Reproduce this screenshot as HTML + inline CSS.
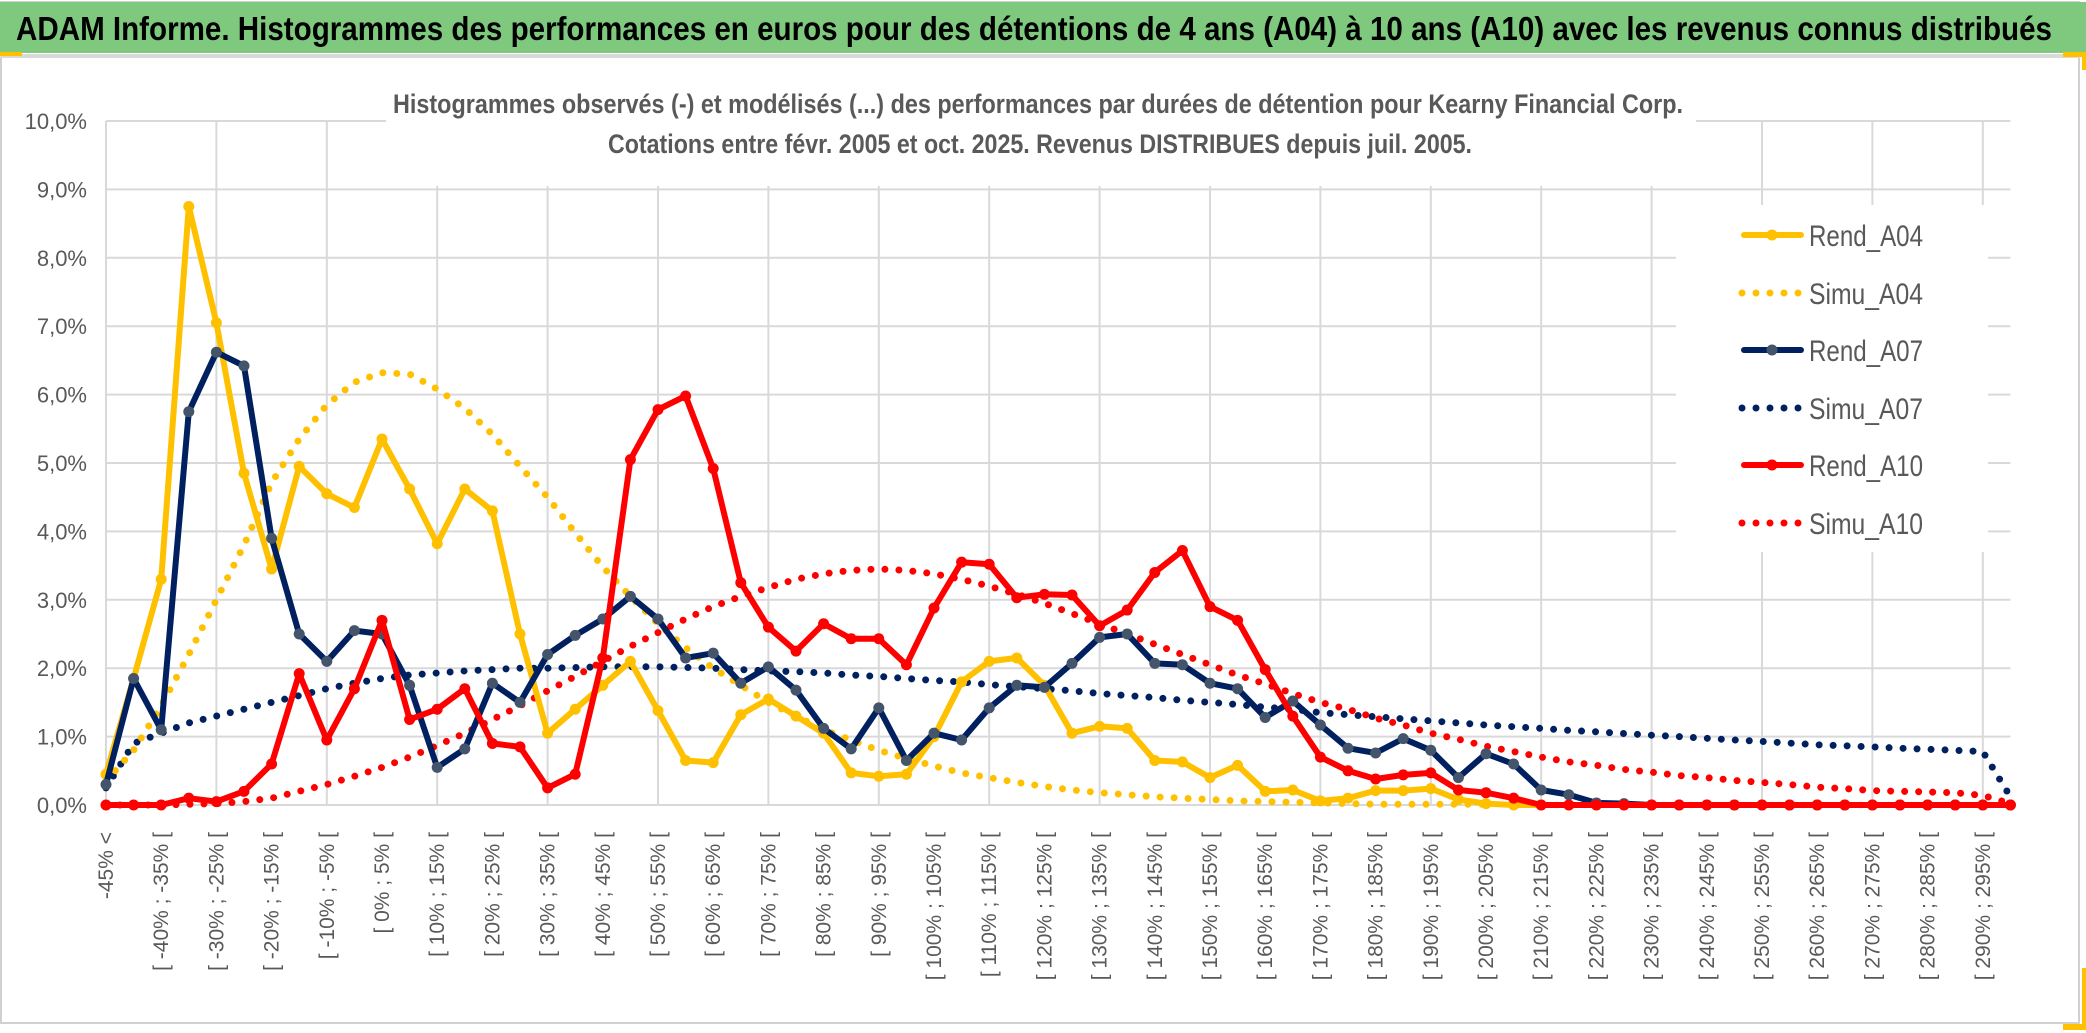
<!DOCTYPE html>
<html><head><meta charset="utf-8"><style>
html,body{margin:0;padding:0;background:#fff;}
svg{display:block;font-family:"Liberation Sans",sans-serif;}
</style></head><body>
<svg id="chart" width="2086" height="1033" viewBox="0 0 2086 1033">
<rect x="0" y="0" width="2086" height="1033" fill="#fff"/>
<rect x="1" y="2" width="2078" height="1021" fill="none" stroke="#d0d0d0" stroke-width="2"/>
<rect x="0" y="2" width="2086" height="51" fill="#7fc97f"/>
<rect x="0" y="54" width="2080" height="4" fill="#d9d9d9"/>
<rect x="0" y="52" width="22" height="4" fill="#ffc000"/>
<rect x="2063" y="52" width="23" height="5" fill="#ffc000"/>
<rect x="2082" y="52" width="4" height="18" fill="#ffc000"/>
<rect x="2082" y="968" width="4" height="62" fill="#ffc000"/>
<rect x="2063" y="1024" width="23" height="6" fill="#ffc000"/>
<text x="16" y="40" font-size="33" font-weight="bold" fill="#000" textLength="2036" lengthAdjust="spacingAndGlyphs">ADAM Informe. Histogrammes des performances en euros pour des détentions de 4 ans (A04) à 10 ans (A10) avec les revenus connus distribués</text>
<g id="grid"></g>
<g id="yticks"></g>
<g id="xticks"></g>
<rect x="386" y="72" width="1310" height="114" fill="#fff"/>
<text x="1038" y="113" font-size="27" font-weight="bold" fill="#595959" text-anchor="middle" textLength="1290" lengthAdjust="spacingAndGlyphs">Histogrammes observés (-) et modélisés (...) des performances par durées de détention pour Kearny Financial Corp.</text>
<text x="1040" y="153" font-size="27" font-weight="bold" fill="#595959" text-anchor="middle" textLength="864" lengthAdjust="spacingAndGlyphs">Cotations entre févr. 2005 et oct. 2025. Revenus DISTRIBUES depuis juil. 2005.</text>
<rect x="1676" y="205" width="312" height="347" fill="#fff"/>
<g id="series"></g>
<g id="legend"></g>
</svg>
<script>
const rendA04 = [0.45,1.85,3.3,8.75,7.05,4.85,3.45,4.95,4.55,4.35,5.35,4.62,3.82,4.62,4.3,2.5,1.05,1.4,1.75,2.1,1.38,0.65,0.62,1.32,1.55,1.3,1.05,0.47,0.42,0.45,1.0,1.8,2.1,2.15,1.75,1.05,1.15,1.12,0.65,0.63,0.4,0.58,0.2,0.22,0.06,0.1,0.21,0.21,0.24,0.08,0.02,0,0,0,0,0,0,0,0,0,0,0,0,0,0,0,0,0,0,0];
const rendA07 = [0.3,1.85,1.1,5.75,6.62,6.42,3.9,2.5,2.1,2.55,2.5,1.75,0.55,0.82,1.78,1.5,2.2,2.48,2.72,3.05,2.72,2.15,2.22,1.78,2.02,1.68,1.12,0.82,1.42,0.65,1.05,0.95,1.42,1.75,1.72,2.07,2.45,2.5,2.07,2.05,1.78,1.7,1.28,1.52,1.17,0.83,0.76,0.97,0.8,0.4,0.75,0.6,0.22,0.15,0.03,0.02,0,0,0,0,0,0,0,0,0,0,0,0,0,0];
const rendA10 = [0,0,0,0.1,0.05,0.2,0.6,1.92,0.95,1.7,2.7,1.25,1.4,1.7,0.9,0.85,0.25,0.45,2.15,5.05,5.78,5.98,4.92,3.25,2.6,2.25,2.65,2.43,2.43,2.05,2.88,3.55,3.52,3.03,3.08,3.07,2.62,2.85,3.4,3.72,2.9,2.7,1.98,1.3,0.7,0.5,0.38,0.44,0.47,0.22,0.18,0.1,0,0,0,0,0,0,0,0,0,0,0,0,0,0,0,0,0,0];
const simuA04 = [0.35,0.8,1.45,2.2,3.0,3.8,4.71,5.35,5.85,6.18,6.32,6.3,6.08,5.8,5.42,4.95,4.5,3.98,3.48,3.05,2.65,2.3,2.0,1.75,1.5,1.3,1.1,0.95,0.8,0.68,0.57,0.47,0.4,0.33,0.27,0.22,0.18,0.15,0.12,0.1,0.08,0.06,0.05,0.04,0.03,0.02,0.01,0.01,0.01,0.01,0.01];
const simuA07 = [0.25,0.9,1.05,1.2,1.3,1.4,1.5,1.6,1.7,1.78,1.85,1.9,1.93,1.96,1.98,2.0,2.0,2.01,2.02,2.02,2.02,2.01,2.0,1.98,1.96,1.95,1.93,1.9,1.88,1.85,1.82,1.8,1.76,1.73,1.7,1.67,1.63,1.6,1.57,1.53,1.5,1.47,1.43,1.4,1.35,1.32,1.29,1.26,1.23,1.2,1.17,1.145,1.12,1.09,1.07,1.045,1.02,1.0,0.975,0.95,0.93,0.905,0.88,0.865,0.85,0.83,0.815,0.8,0.78,0.12];
const simuA10 = [0,0,0,0.01,0.02,0.05,0.1,0.2,0.3,0.42,0.55,0.7,0.87,1.05,1.25,1.45,1.67,1.88,2.1,2.32,2.52,2.72,2.9,3.05,3.18,3.3,3.38,3.43,3.45,3.43,3.38,3.3,3.2,3.08,2.95,2.8,2.65,2.5,2.35,2.2,2.05,1.9,1.77,1.63,1.5,1.4,1.27,1.17,1.05,0.96,0.86,0.78,0.7,0.63,0.58,0.52,0.48,0.43,0.4,0.36,0.33,0.3,0.26,0.24,0.21,0.2,0.19,0.18,0.14,0.02];
const yTicks = [0,1,2,3,4,5,6,7,8,9,10];
const xLabels = ["-45% <"];
for (let k = 1; k < 70; k++) { const lo = -45 + 5*(k-1); xLabels.push(k % 2 === 0 ? "[ " + lo + "% ; " + (lo+5) + "% [" : ""); }

const NS = "http://www.w3.org/2000/svg";
const X0 = 106, DX = 27.6, Y0 = 805, DY = 68.4;
const xs = k => X0 + k*DX;
const ys = v => Y0 - v*DY;
function mk(tag, attrs, parent){ const e=document.createElementNS(NS,tag); for(const a in attrs) e.setAttribute(a,attrs[a]); parent.appendChild(e); return e; }

const grid = document.getElementById('grid');
const XR = xs(69);
yTicks.forEach(t => {
  const l = mk('line',{x1:X0,x2:XR,y1:ys(t),y2:ys(t),stroke:'#d9d9d9','stroke-width':2},grid);
  
  
  const tx = mk('text',{x:87,y:ys(t)+8,'text-anchor':'end','font-size':22,fill:'#595959'},document.getElementById('yticks'));
  tx.textContent = t.toFixed(1).replace('.',',') + '%';
  
  
});
for (let k = 0; k <= 68; k += 4) {
  const l = mk('line',{x1:xs(k),x2:xs(k),y1:ys(10),y2:ys(0),stroke:'#d9d9d9','stroke-width':2},grid);
  
  
}
xLabels.forEach((s,k) => {
  if (!s) return;
  const x = xs(k)+7, y = 832;
  const t = mk('text',{x:x,y:y,'text-anchor':'end','font-size':21,fill:'#595959',transform:`rotate(-90 ${x} ${y})`},document.getElementById('xticks'));
  t.textContent = s;
  
  
});

const series = document.getElementById('series');
function pts(arr){ return arr.map((v,k)=>xs(k).toFixed(1)+','+ys(v).toFixed(1)).join(' '); }
function dotted(arr,color,name){
  const p = mk('polyline',{points:pts(arr),fill:'none',stroke:color,'stroke-width':7,'stroke-linecap':'round','stroke-dasharray':'0 14'},series);
  
  
}
function solid(arr,color,mcol,name){
  const g = mk('g',{},series);
  
  
  mk('polyline',{points:pts(arr),fill:'none',stroke:color,'stroke-width':6,'stroke-linejoin':'round'},g);
  arr.forEach((v,k)=>{
    const c = mk('circle',{cx:xs(k),cy:ys(v),r:5.5,fill:mcol},g);
    
    
  });
}
dotted(simuA07,'#002060','simu-a07-line');
dotted(simuA04,'#ffc000','simu-a04-line');
dotted(simuA10,'#ff0000','simu-a10-line');
solid(rendA04,'#ffc000','#ffc000','rend-a04-line');
solid(rendA07,'#002060','#44546a','rend-a07-line');
solid(rendA10,'#ff0000','#ff0000','rend-a10-line');

const legend = document.getElementById('legend');
const items = [['Rend_A04','#ffc000','#ffc000',0],['Simu_A04','#ffc000',null,1],['Rend_A07','#002060','#44546a',0],['Simu_A07','#002060',null,1],['Rend_A10','#ff0000','#ff0000',0],['Simu_A10','#ff0000',null,1]];
const ly = [235,293,350,408,465,523];
items.forEach((it,i)=>{
  const g = mk('g',{},legend);
  
  
  const y = ly[i];
  if (it[3]) {
    mk('line',{x1:1742,x2:1803,y1:y,y2:y,stroke:it[1],'stroke-width':7,'stroke-linecap':'round','stroke-dasharray':'0 14'},g);
  } else {
    mk('line',{x1:1744,x2:1801,y1:y,y2:y,stroke:it[1],'stroke-width':6,'stroke-linecap':'round'},g);
    mk('circle',{cx:1772,cy:y,r:5.5,fill:it[2]},g);
  }
  const t = mk('text',{x:1809,y:y+11,'font-size':30,fill:'#595959',textLength:114,lengthAdjust:'spacingAndGlyphs'},g);
  t.textContent = it[0];
});
</script>
</body></html>
